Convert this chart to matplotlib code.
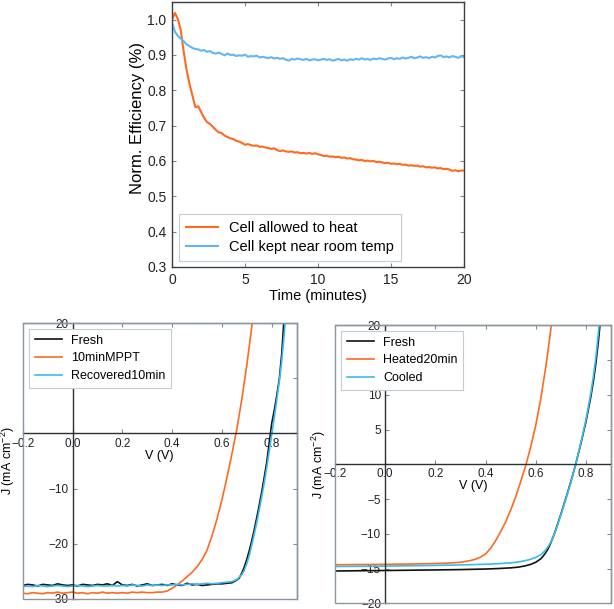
import numpy as np
import matplotlib
matplotlib.use("Agg")
import matplotlib.pyplot as plt
from matplotlib.patches import Rectangle
from matplotlib.ticker import FuncFormatter

plt.rcParams['font.family'] = ['Liberation Sans', 'DejaVu Sans']
plt.rcParams['mathtext.default'] = 'regular'
plt.rcParams['axes.unicode_minus'] = True

# ---------------- data: top panel ----------------
time_min = np.round(np.arange(0, 20.01, 0.2), 2)
eff_heat = [1.000, 1.019, 1.002, 0.970, 0.910, 0.858, 0.818, 0.785, 0.752, 0.755,
            0.738, 0.722, 0.710, 0.705, 0.697, 0.688, 0.681, 0.679, 0.672, 0.668,
            0.664, 0.662, 0.657, 0.655, 0.651, 0.646, 0.648, 0.645, 0.643, 0.644,
            0.640, 0.641, 0.638, 0.637, 0.634, 0.636, 0.631, 0.628, 0.630, 0.627,
            0.626, 0.627, 0.624, 0.625, 0.622, 0.623, 0.621, 0.623, 0.620, 0.622,
            0.619, 0.617, 0.614, 0.615, 0.612, 0.613, 0.611, 0.612, 0.609, 0.610,
            0.607, 0.608, 0.605, 0.604, 0.602, 0.603, 0.600, 0.601, 0.599, 0.600,
            0.597, 0.598, 0.596, 0.594, 0.595, 0.592, 0.593, 0.591, 0.592, 0.589,
            0.590, 0.587, 0.588, 0.586, 0.587, 0.584, 0.585, 0.582, 0.583, 0.581,
            0.582, 0.579, 0.580, 0.577, 0.578, 0.576, 0.572, 0.574, 0.571, 0.573,
            0.573]
eff_room = [0.990, 0.966, 0.954, 0.946, 0.939, 0.930, 0.925, 0.920, 0.917, 0.916,
            0.912, 0.914, 0.909, 0.911, 0.906, 0.904, 0.907, 0.903, 0.899, 0.904,
            0.900, 0.901, 0.897, 0.899, 0.898, 0.901, 0.895, 0.897, 0.896, 0.898,
            0.893, 0.895, 0.893, 0.891, 0.894, 0.890, 0.892, 0.889, 0.891, 0.887,
            0.884, 0.889, 0.887, 0.890, 0.888, 0.886, 0.889, 0.885, 0.887, 0.888,
            0.885, 0.887, 0.889, 0.886, 0.888, 0.884, 0.886, 0.889, 0.885, 0.887,
            0.884, 0.888, 0.886, 0.889, 0.887, 0.891, 0.887, 0.889, 0.886, 0.890,
            0.888, 0.891, 0.889, 0.887, 0.890, 0.892, 0.888, 0.891, 0.889, 0.893,
            0.890, 0.892, 0.895, 0.891, 0.893, 0.896, 0.892, 0.894, 0.891, 0.895,
            0.893, 0.897, 0.899, 0.894, 0.896, 0.893, 0.897, 0.895, 0.892, 0.896,
            0.894]
top_labels = ["Cell allowed to heat", "Cell kept near room temp"]

# ---------------- data: bottom-left panel ----------------
v_flat_L = list(np.round(np.arange(-0.2, 0.621, 0.02), 2))
v_knee_fresh_L = [0.64, 0.66, 0.67, 0.68, 0.69, 0.70, 0.71, 0.72, 0.73, 0.74, 0.75,
                  0.76, 0.77, 0.78, 0.79, 0.80, 0.81, 0.82, 0.83, 0.84, 0.85]
j_fresh_L = [-27.6, -27.4, -27.5, -27.7, -27.4, -27.5, -27.6, -27.3, -27.5, -27.6,
             -27.5, -27.7, -27.4, -27.5, -27.6, -27.4, -27.5, -27.3, -27.6, -26.9,
             -27.5, -27.6, -27.4, -27.7, -27.5, -27.3, -27.6, -27.5, -27.4, -27.6,
             -27.3, -27.5, -27.6, -27.2, -27.5, -27.4, -27.6, -27.5, -27.4, -27.3,
             -27.3, -27.2,
             -27.1, -26.6, -26.2, -25.3, -24.2, -22.8, -21.2, -19.4, -17.4, -15.2, -12.9,
             -10.5, -7.9, -5.1, -1.6, 1.9, 4.2, 6.9, 9.8, 14.5, 21.5]
v_knee_rec_L = [0.64, 0.66, 0.68, 0.69, 0.70, 0.71, 0.72, 0.73, 0.74, 0.75, 0.76,
                0.77, 0.78, 0.79, 0.80, 0.81, 0.82, 0.83, 0.84, 0.85, 0.86]
j_rec_L = [-27.8, -27.7, -27.8, -27.6, -27.7, -27.8, -27.7, -27.6, -27.7, -27.8,
           -27.7, -27.6, -27.7, -27.8, -27.7, -27.6, -27.7, -27.7, -27.6, -27.7,
           -27.6, -27.7, -27.5, -27.6, -27.7, -27.5, -27.6, -27.5, -27.6, -27.5,
           -27.5, -27.4, -27.5, -27.4, -27.3, -27.4, -27.3, -27.2, -27.3, -27.2,
           -27.1, -27.0,
           -26.9, -26.5, -25.6, -24.8, -23.6, -22.1, -20.2, -18.2, -16.1, -13.8, -11.4,
           -8.9, -6.1, -3.1, -0.1, 2.9, 6.1, 9.4, 13.2, 18.0, 23.5]
v_mppt_L = list(np.round(np.arange(-0.2, 0.301, 0.02), 2)) + [
    0.32, 0.34, 0.36, 0.38, 0.40, 0.42, 0.44, 0.46, 0.48, 0.50, 0.52,
    0.54, 0.56, 0.58, 0.60, 0.62, 0.64, 0.66, 0.68, 0.70, 0.72, 0.73]
j_mppt_L = [-29.0, -29.1, -28.9, -29.0, -29.1, -28.9, -29.0, -28.8, -29.0, -28.9,
            -28.8, -29.0, -28.9, -29.1, -28.9, -29.0, -28.8, -29.0, -28.9, -29.0,
            -28.9, -29.0, -28.8, -28.9, -28.8, -28.9,
            -28.9, -28.8, -28.8, -28.6, -28.1, -27.5, -26.8, -26.0, -25.2, -24.2, -22.9,
            -21.2, -18.6, -15.5, -12.0, -8.0, -3.7, 0.9, 6.3, 12.5, 19.5, 23.0]
left_labels = ["Fresh", "10minMPPT", "Recovered10min"]

# ---------------- data: bottom-right panel ----------------
v_fresh_R = [-0.2, 0.0, 0.2, 0.3, 0.4, 0.45, 0.5, 0.53, 0.56, 0.58, 0.60, 0.62, 0.63,
             0.64, 0.65, 0.66, 0.67, 0.68, 0.69, 0.70, 0.72, 0.74, 0.76, 0.78, 0.80,
             0.82, 0.83, 0.84, 0.85, 0.86]
j_fresh_R = [-15.35, -15.28, -15.2, -15.15, -15.07, -15.0, -14.9, -14.8, -14.6, -14.4,
             -14.1, -13.6, -13.2, -12.7, -12.1, -11.3, -10.4, -9.4, -8.3, -7.2, -4.9,
             -2.5, 0.1, 3.0, 6.1, 9.8, 12.0, 14.6, 17.8, 21.5]
v_cool_R = [-0.2, 0.0, 0.2, 0.3, 0.4, 0.45, 0.5, 0.53, 0.56, 0.58, 0.60, 0.62, 0.63,
            0.64, 0.65, 0.66, 0.67, 0.68, 0.69, 0.70, 0.72, 0.74, 0.76, 0.78, 0.80,
            0.82, 0.83, 0.84, 0.85, 0.86]
j_cool_R = [-14.7, -14.65, -14.55, -14.48, -14.38, -14.3, -14.18, -14.05, -13.85, -13.65,
            -13.4, -13.0, -12.7, -12.3, -11.8, -11.2, -10.4, -9.5, -8.4, -7.3, -5.0,
            -2.6, 0.1, 3.1, 6.4, 10.3, 12.7, 15.5, 19.0, 23.0]
v_heat_R = [-0.2, 0.0, 0.1, 0.2, 0.25, 0.30, 0.34, 0.36, 0.38, 0.40, 0.42, 0.44, 0.46,
            0.48, 0.50, 0.52, 0.54, 0.56, 0.58, 0.60, 0.62, 0.64, 0.65, 0.66, 0.67]
j_heat_R = [-14.45, -14.4, -14.35, -14.28, -14.22, -14.1, -13.85, -13.65, -13.35, -12.9,
            -12.1, -11.0, -9.7, -8.3, -6.6, -4.7, -2.5, -0.2, 2.5, 5.6, 9.4, 14.0,
            16.6, 19.4, 22.5]
right_labels = ["Fresh", "Heated20min", "Cooled"]

ORANGE = '#fe6a1f'
BLUE_TOP = '#62b6f4'
BLUE_BOT = '#38bcef'
BLACK = '#111111'
BOX = '#8a96a3'
ZERO = '#2a2f35'

W, H = 614, 609
fig = plt.figure(figsize=(W / 100, H / 100), dpi=100)


def px_axes(l, t, r, b):
    return fig.add_axes([l / W, 1 - b / H, (r - l) / W, (b - t) / H])


# ---------------- top panel ----------------
ax = px_axes(172, 2, 464, 267)
ax.plot(time_min, eff_heat, color=ORANGE, lw=1.5, label=top_labels[0])
ax.plot(time_min, eff_room, color=BLUE_TOP, lw=1.5, label=top_labels[1])
ax.set_xlim(0, 20)
ax.set_ylim(0.3, 1.05)
ax.set_xticks([0, 5, 10, 15, 20])
ax.set_yticks([0.3, 0.4, 0.5, 0.6, 0.7, 0.8, 0.9, 1.0])
ax.set_xlabel("Time (minutes)", fontsize=10.5, labelpad=2)
ax.set_ylabel("Norm. Efficiency (%)", fontsize=12)
ax.yaxis.set_label_coords(-27 / 292, (267 - 118) / 265)
ax.tick_params(which='both', direction='in', top=True, right=True, length=3,
               width=0.8, color='#7d8a97', labelsize=10, pad=4, labelcolor='#222')
for s in ax.spines.values():
    s.set_color('#3a3f45')
    s.set_linewidth(1.0)
leg = ax.legend(loc='lower left', bbox_to_anchor=(7 / 292, 6 / 265), borderaxespad=0,
                fontsize=10.5, fancybox=False, edgecolor='#c5cbd2', framealpha=1,
                handlelength=2.2, handletextpad=0.8, borderpad=0.45, labelspacing=0.4)
leg.get_frame().set_linewidth(0.8)


def iv_axes(ax, yticks, ylim):
    ax.set_xlim(-0.2, 0.9)
    ax.set_ylim(*ylim)
    ax.set_xticks([-0.2, 0.0, 0.2, 0.4, 0.6, 0.8])
    ax.set_yticks(yticks)
    ax.xaxis.set_major_formatter(FuncFormatter(
        lambda v, p: ("%.1f" % v).replace('-', '\u2212')))
    ax.yaxis.set_major_formatter(FuncFormatter(
        lambda v, p: '' if abs(v) < 1e-9 else ("%d" % v).replace('-', '\u2212')))
    ax.spines['left'].set_position(('data', 0))
    ax.spines['bottom'].set_position(('data', 0))
    for k in ('left', 'bottom'):
        ax.spines[k].set_color(ZERO)
        ax.spines[k].set_linewidth(1.0)
    for k in ('right', 'top'):
        ax.spines[k].set_color(BOX)
        ax.spines[k].set_linewidth(1.0)
    ax.add_patch(Rectangle((0, 0), 1, 1, transform=ax.transAxes, fill=False,
                           ec=BOX, lw=1.0, clip_on=False, zorder=2.6))
    ax.tick_params(which='both', direction='in', top=True, right=True, length=3,
                   width=0.8, color='#7d8a97', labelsize=8.5, pad=3, labelcolor='#222')
    ax.set_xlabel("V (V)", fontsize=9)
    ax.set_ylabel("J (mA cm$^{-2}$)", fontsize=9)


# ---------------- bottom-left panel ----------------
axL = px_axes(22.7, 323.3, 296.7, 598.7)
axL.plot(v_flat_L + v_knee_fresh_L, j_fresh_L, color=BLACK, lw=1.2, label=left_labels[0])
axL.plot(v_mppt_L, j_mppt_L, color=ORANGE, lw=1.2, label=left_labels[1])
axL.plot(v_flat_L + v_knee_rec_L, j_rec_L, color=BLUE_BOT, lw=1.2, label=left_labels[2])
iv_axes(axL, [-30, -20, -10, 0, 10, 20], (-30, 20))
axL.xaxis.set_label_coords(0.5, (598.7 - 450) / 275.4)
axL.yaxis.set_label_coords(-0.02, 0.5)
legL = axL.legend(loc='upper left', bbox_to_anchor=(6.3 / 274, 1 - 5.7 / 275.4),
                  borderaxespad=0, fontsize=9, fancybox=False, edgecolor='#c5cbd2',
                  framealpha=1, handlelength=2.2, handletextpad=0.7, borderpad=0.45,
                  labelspacing=0.45)
legL.get_frame().set_linewidth(0.8)

# ---------------- bottom-right panel ----------------
axR = px_axes(335, 325.3, 611, 603.3)
axR.plot(v_fresh_R, j_fresh_R, color=BLACK, lw=1.2, label=right_labels[0])
axR.plot(v_heat_R, j_heat_R, color=ORANGE, lw=1.2, label=right_labels[1])
axR.plot(v_cool_R, j_cool_R, color=BLUE_BOT, lw=1.2, label=right_labels[2])
iv_axes(axR, [-20, -15, -10, -5, 0, 5, 10, 15, 20], (-20, 20))
axR.xaxis.set_label_coords(0.5, (603.3 - 480) / 278)
axR.yaxis.set_label_coords(-0.025, 0.5)
legR = axR.legend(loc='upper left', bbox_to_anchor=(6 / 276, 1 - 5.7 / 278),
                  borderaxespad=0, fontsize=9, fancybox=False, edgecolor='#c5cbd2',
                  framealpha=1, handlelength=2.2, handletextpad=0.7, borderpad=0.45,
                  labelspacing=0.45)
legR.get_frame().set_linewidth(0.8)

fig.savefig("out.png", dpi=100)
